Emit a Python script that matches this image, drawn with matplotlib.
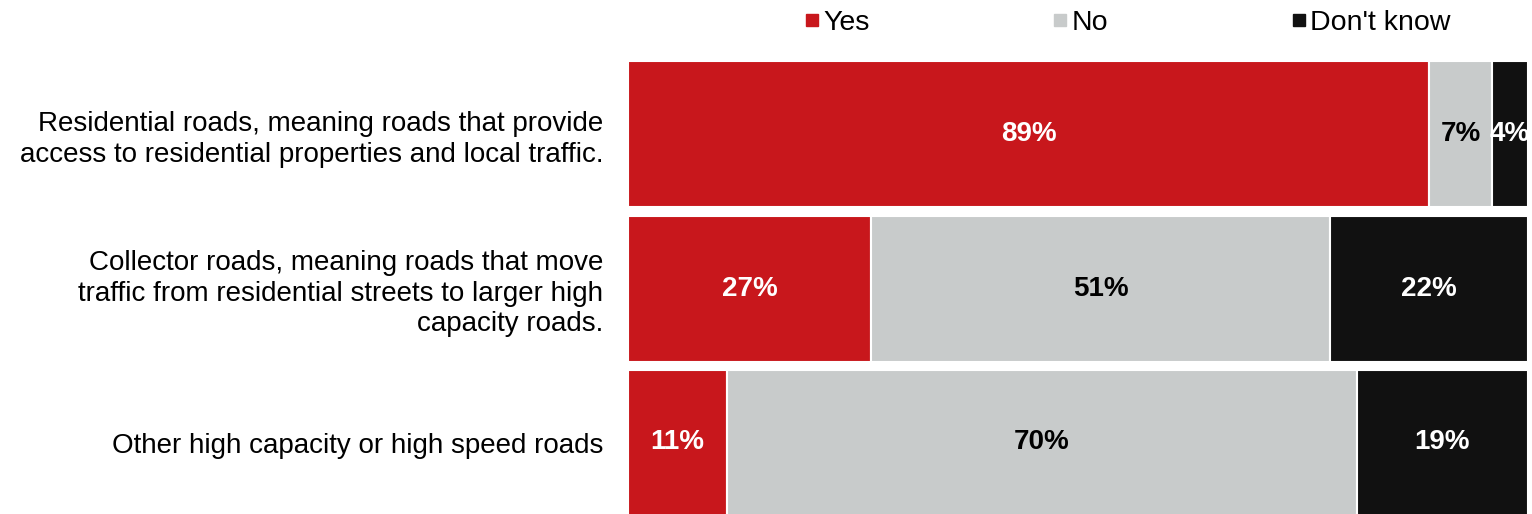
import matplotlib.pyplot as plt
from matplotlib.lines import Line2D
import numpy as np

plt.rcParams['font.family'] = ['Liberation Sans', 'DejaVu Sans']

categories = [
    "Residential roads, meaning roads that provide\naccess to residential properties and local traffic.",
    "Collector roads, meaning roads that move\ntraffic from residential streets to larger high\ncapacity roads.",
    "Other high capacity or high speed roads",
]
series_names = ["Yes", "No", "Don't know"]
yes = [89, 27, 11]
no = [7, 51, 70]
dont_know = [4, 22, 19]

colors = ["#c8171c", "#c8cbcb", "#111111"]
label_colors = ["white", "black", "white"]

W, H = 1532, 514
fig = plt.figure(figsize=(W / 100, H / 100), dpi=100)
ax = fig.add_axes([628 / W, 0, (W - 628) / W, (514 - 57) / H])

ypos = np.arange(len(categories))
left = np.zeros(len(categories))
for vals, name, col, lcol in zip([yes, no, dont_know], series_names, colors, label_colors):
    bars = ax.barh(ypos, vals, left=left, height=0.945, color=col,
                   edgecolor="white", linewidth=1.5, label=name)
    labels = ax.bar_label(bars, labels=[f"{v}%" for v in vals], label_type="center",
                          color=lcol, fontsize=20, fontweight="bold")
    for t in labels:
        t.set_clip_on(False)
    left += np.array(vals)

ax.set_xlim(0, 904 / 9)
ax.set_ylim(2.46, -0.5)
ax.set_yticks(ypos)
ax.set_yticklabels(categories, fontsize=20, linespacing=1.22)
ax.tick_params(axis="y", length=0, pad=18)
ax.set_xticks([])
for s in ax.spines.values():
    s.set_visible(False)

# legend with small square swatches across the top
handles = [Line2D([], [], marker="s", linestyle="none", markersize=8.8,
                  markerfacecolor=c, markeredgecolor=c) for c in colors]
fig.legend(handles, series_names, loc="center left", bbox_to_anchor=(803 / W, 1 - 23 / H),
           ncol=3, frameon=False, fontsize=20.5, handlelength=0.6, handletextpad=0.1,
           columnspacing=6.4, borderaxespad=0, borderpad=0)

fig.savefig("out.png", dpi=100)
